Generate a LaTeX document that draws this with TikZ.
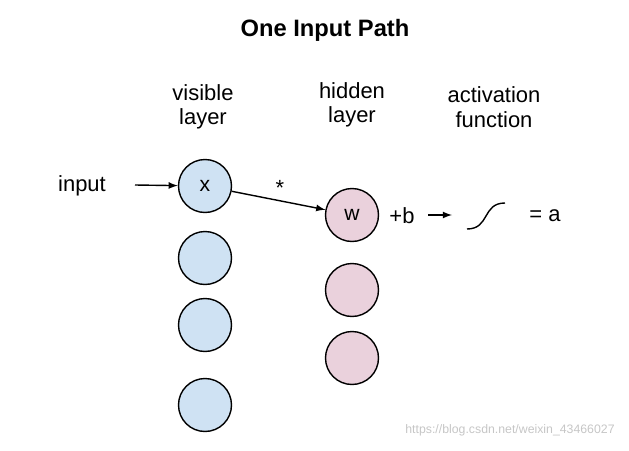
\documentclass[tikz,border=0pt]{standalone}
\usepackage{fontspec}
\setmainfont{Liberation Sans}
\definecolor{visblue}{HTML}{CFE2F3}
\definecolor{hidpink}{HTML}{EAD1DC}
\tikzstyle{vis}=[fill=visblue, draw=black, shape=circle, minimum size=1.06cm, inner sep=0pt, thick, font=\fontsize{12}{14}\selectfont]
\tikzstyle{hid}=[fill=hidpink, draw=black, shape=circle, minimum size=1.06cm, inner sep=0pt, thick, font=\fontsize{12}{14}\selectfont]
\tikzstyle{lbl}=[font=\fontsize{12.5}{14}\selectfont, align=center]
\tikzstyle{wire}=[->, >=latex, thick]

\begin{document}
\begin{tikzpicture}[x=0.02cm, y=-0.02cm]
    \useasboundingbox (0,0) rectangle (629,450);
    \node [lbl, font=\bfseries\fontsize{13.5}{15}\selectfont] (title) at (325,30) {One Input Path};
    \node [lbl] (vislbl) at (203,107) {visible\\layer};
    \node [lbl] (hidlbl) at (352,105) {hidden\\layer};
    \node [lbl] (actlbl) at (494,107) {activation\\function};

    \node [vis] (v1) at (205,186) {x};
    \node [vis] (v2) at (205,258) {};
    \node [vis] (v3) at (205,325) {};
    \node [vis] (v4) at (205,405) {};

    \node [hid] (h1) at (352,215) {w};
    \node [hid] (h2) at (352,290) {};
    \node [hid] (h3) at (352,358) {};

    \node [lbl] (inp) at (82,186) {input};
    \node [lbl] (bias) at (402,216) {+b};
    \node [lbl] (out) at (545,216) {= a};
    \node [lbl] (star) at (280,188) {*};
    \coordinate (in0) at (135,185);
    \coordinate (b0) at (428,215);
    \coordinate (b1) at (452,215);
    \coordinate (s0) at (467,229);
    \coordinate (s1) at (505,203);
    \node [font=\scriptsize, text=gray!45] (mark) at (510,430) {https://blog.csdn.net/weixin\_43466027};

    \draw [wire] (in0) -- (v1);
    \draw [wire] (v1) -- (h1);
    \draw [wire] (b0) -- (b1);
    \draw [thick] (s0) .. controls (490,229) and (482,203) .. (s1);
\end{tikzpicture}
\end{document}
